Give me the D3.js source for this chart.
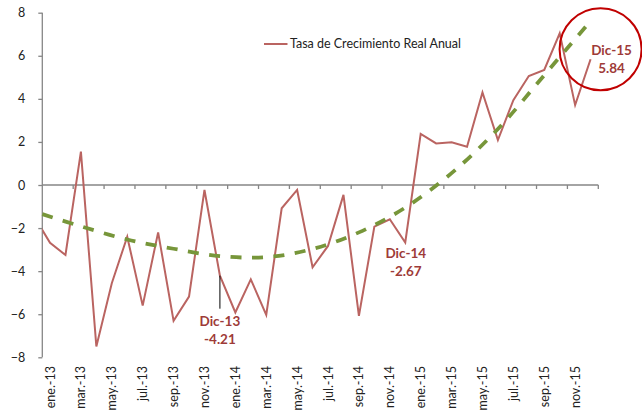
<!DOCTYPE html>
<html><head><meta charset="utf-8">
<script src="https://cdn.jsdelivr.net/npm/d3@7"></script>
<style>
html,body{margin:0;padding:0;background:#fff;}
svg{display:block;font-family:Lato,"Open Sans",sans-serif;}
</style></head>
<body><svg id="chart" width="642" height="415"></svg>
<script>
// ---- data ----
const months = ["ene.","feb.","mar.","abr.","may.","jun.","jul.","ago.","sep.","oct.","nov.","dic."];
const years = ["13","14","15"];
const categories = years.flatMap(y => months.map(m => m + "-" + y));
const values = [
  -2.68, -3.25, 1.55, -7.50, -4.56, -2.40, -5.60, -2.20, -6.31, -5.18, -0.23, -4.21,
  -5.92, -4.38, -6.03, -1.08, -0.23, -3.82, -2.83, -0.46, -6.08, -1.93, -1.59, -2.67,
   2.37,  1.93, 1.98,  1.78,  4.30,  2.09,  3.94,  5.06,  5.34,  7.04,  3.71,  5.84
];
const previousValue = -1.5; // dic.-12, only partly visible at the left edge
// trendline (month index, value)
const trendIndex  = [-0.5,  2,     5,     8,    11,    14,    17,    20,   23,    26,   29,  32,  34.8];
const trendValues = [-1.35, -1.92, -2.53, -2.96, -3.30, -3.35, -2.97, -2.2, -1.05, 0.55, 2.6, 5.1, 7.45];
const yTicks = [-8, -6, -4, -2, 0, 2, 4, 6, 8];
const seriesName = "Tasa de Crecimiento Real Anual";
const annotations = [
  {i: 11, name: "Dic-13", text: "-4.21"},
  {i: 23, name: "Dic-14", text: "-2.67"},
  {i: 35, name: "Dic-15", text: "5.84"}
];

// ---- layout ----
const svg = d3.select("#chart");
const L = 42.3, R = 598.3, T = 12.7, B = 357.3;
const x = d3.scaleLinear().domain([-0.5, categories.length - 0.5]).range([L, R]);
const y = d3.scaleLinear().domain([-8, 8]).range([B, T]);
const axisColor = "#868686";
const lineColor = "#BA6461";
const labelColor = "#9E3B38";
const trendColor = "#77963A";

svg.append("defs").append("clipPath").attr("id","plot")
  .append("rect").attr("x", L).attr("y", 0).attr("width", R - L).attr("height", 415);

// y axis
const yAxis = svg.append("g").attr("transform", `translate(${L},0)`)
  .call(d3.axisLeft(y).tickValues(yTicks).tickSize(4).tickPadding(13).tickFormat(d3.format("d")));
yAxis.select(".domain").attr("stroke", axisColor).attr("stroke-width", 1.3).attr("d", `M0,${T}V${B}`);
yAxis.selectAll(".tick line").attr("stroke", axisColor).attr("stroke-width", 1.3);
yAxis.selectAll(".tick text").attr("font-size", 12.5).attr("fill", "#222").attr("font-family","Lato");

// x axis at zero
const bounds = d3.range(1.5, categories.length, 2);
const xg = svg.append("g");
xg.append("line").attr("x1", L).attr("x2", R).attr("y1", y(0)).attr("y2", y(0))
  .attr("stroke", axisColor).attr("stroke-width", 1.3);
xg.selectAll("line.tk").data(bounds).join("line").attr("class","tk")
  .attr("x1", d => x(d)).attr("x2", d => x(d)).attr("y1", y(0)).attr("y2", y(0) + 4)
  .attr("stroke", axisColor).attr("stroke-width", 1.3);
xg.selectAll("text").data(categories.map((c, i) => ({c, i})).filter(d => d.i % 2 === 0)).join("text")
  .attr("transform", d => `translate(${x(d.i) + 4.5},366) rotate(-90)`)
  .attr("text-anchor", "end").attr("font-size", 12.5).attr("fill", "#222")
  .text(d => d.c);

const lineGen = d3.line().x(d => x(d[0])).y(d => y(d[1]));

// series line
const pts = [[-1, previousValue]].concat(values.map((v, i) => [i, v]));
svg.append("path").attr("clip-path", "url(#plot)")
  .attr("d", lineGen(pts)).attr("fill", "none")
  .attr("stroke", lineColor).attr("stroke-width", 2).attr("stroke-linejoin", "miter");

// trendline
const trendPts = trendIndex.map((t, k) => [t, trendValues[k]]);
svg.append("path")
  .attr("d", d3.line().curve(d3.curveCatmullRom).x(d => x(d[0])).y(d => y(d[1]))(trendPts))
  .attr("fill", "none")
  .attr("stroke", trendColor).attr("stroke-width", 3.8)
  .attr("stroke-dasharray", "11,10.5");

// legend
svg.append("line").attr("x1", 264).attr("x2", 287.5).attr("y1", 44).attr("y2", 44)
  .attr("stroke", lineColor).attr("stroke-width", 2);
svg.append("text").attr("x", 290).attr("y", 48.2).attr("font-size", 12.5).attr("fill", "#222")
  .text(seriesName);

// annotations
const a13 = annotations[0], a14 = annotations[1], a15 = annotations[2];
svg.append("line").attr("x1", x(a13.i)).attr("x2", x(a13.i))
  .attr("y1", y(values[a13.i])).attr("y2", y(values[a13.i]) + 33)
  .attr("stroke", "#000").attr("stroke-width", 1);
function annot(a, dx, dy) {
  const cx = x(a.i) + dx, cy = y(values[a.i]) + dy;
  const g = svg.append("g").attr("font-weight", "bold").attr("font-size", 13.5)
    .attr("fill", labelColor).attr("text-anchor", "middle");
  g.append("text").attr("x", cx).attr("y", cy + 5).text(a.name);
  g.append("text").attr("x", cx).attr("y", cy + 23).text(a.text);
}
annot(a13, 0, 45);
annot(a14, 0.5, 10);
annot(a15, 21, -9);

svg.append("circle").attr("cx", x(a15.i) + 10).attr("cy", y(values[a15.i]) - 10).attr("r", 41)
  .attr("fill", "none").attr("stroke", "#C00000").attr("stroke-width", 2);
</script></body></html>
